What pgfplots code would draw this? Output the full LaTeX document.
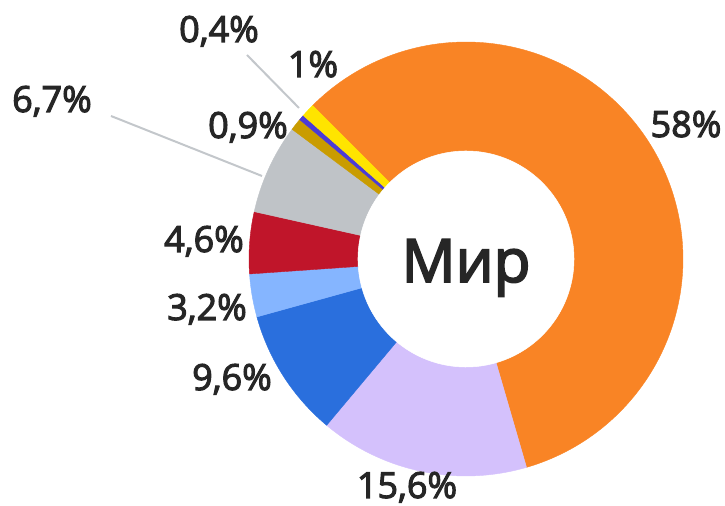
\documentclass[border=0pt]{standalone}
\usepackage{pgfplots}
\pgfplotsset{compat=1.18}
\usepgfplotslibrary{polar}
\usepackage{fontspec}
\setmainfont{Open Sans}
\newfontfamily\semib{Open Sans}[FakeBold=3]
\definecolor{cOrange}{HTML}{F98425}
\definecolor{cLav}{HTML}{D4C1FC}
\definecolor{cBlue}{HTML}{2A6FDD}
\definecolor{cLBlue}{HTML}{85B5FF}
\definecolor{cRed}{HTML}{C0152A}
\definecolor{cGray}{HTML}{BFC3C7}
\definecolor{cGold}{HTML}{C99C00}
\definecolor{cPurple}{HTML}{4B3BD6}
\definecolor{cYellow}{HTML}{FFE400}
\definecolor{cText}{HTML}{262626}
\definecolor{cLine}{HTML}{C3C7CB}
% shares in percent, clockwise from the top-left
\def\pA{58}\def\pB{15.6}\def\pC{9.6}\def\pD{3.2}\def\pE{4.6}
\def\pF{6.7}\def\pG{0.9}\def\pH{0.4}\def\pI{1}
\pgfmathsetmacro\aA{135}
\pgfmathsetmacro\aB{\aA-3.6*\pA}
\pgfmathsetmacro\aC{\aB-3.6*\pB}
\pgfmathsetmacro\aD{\aC-3.6*\pC}
\pgfmathsetmacro\aE{\aD-3.6*\pD}
\pgfmathsetmacro\aF{\aE-3.6*\pE}
\pgfmathsetmacro\aG{\aF-3.6*\pF}
\pgfmathsetmacro\aH{\aG-3.6*\pG}
\pgfmathsetmacro\aI{\aH-3.6*\pH}
\pgfmathsetmacro\aJ{\aI-3.6*\pI}
\begin{document}
\begin{tikzpicture}
\path[use as bounding box] (0,0) rectangle (543.75pt,379.5pt);
\begin{polaraxis}[at={(349.5pt,185.25pt)}, anchor=center, scale only axis,
  width=325.5pt, height=325.5pt, ymin=0, ymax=1, hide axis, clip=false]
\addplot[fill=cOrange, draw=cOrange, line width=0.3pt, domain=\aB:\aA, samples=150] {1} -- (axis cs:0,0) -- cycle;
\addplot[fill=cLav, draw=cLav, line width=0.3pt, domain=\aC:\aB, samples=60] {1} -- (axis cs:0,0) -- cycle;
\addplot[fill=cBlue, draw=cBlue, line width=0.3pt, domain=\aD:\aC, samples=40] {1} -- (axis cs:0,0) -- cycle;
\addplot[fill=cLBlue, draw=cLBlue, line width=0.3pt, domain=\aE:\aD, samples=20] {1} -- (axis cs:0,0) -- cycle;
\addplot[fill=cRed, draw=cRed, line width=0.3pt, domain=\aF:\aE, samples=20] {1} -- (axis cs:0,0) -- cycle;
\addplot[fill=cGray, draw=cGray, line width=0.3pt, domain=\aG:\aF, samples=30] {1} -- (axis cs:0,0) -- cycle;
\addplot[fill=cGold, draw=cGold, line width=0.3pt, domain=\aH:\aG, samples=8] {1} -- (axis cs:0,0) -- cycle;
\addplot[fill=cPurple, draw=cPurple, line width=0.3pt, domain=\aI:\aH, samples=6] {1} -- (axis cs:0,0) -- cycle;
\addplot[fill=cYellow, draw=cYellow, line width=0.3pt, domain=\aJ:\aI, samples=8] {1} -- (axis cs:0,0) -- cycle;
\addplot[fill=white, draw=white, domain=0:360, samples=200] {0.4977} -- cycle;
\end{polaraxis}
\begin{scope}[x=0.75pt, y=-0.75pt, yshift=379.5pt]
\draw[cLine, line width=1.5pt] (111,116) -- (262,176);
\draw[cLine, line width=1.5pt] (247,55) -- (299,108);
\begin{scope}[every node/.style={text=cText, font=\semib\fontsize{27}{32}\selectfont, inner sep=0pt, anchor=base}]
\node at (686,137) {58\%};
\node at (407,498) {15,6\%};
\node at (232,390) {9,6\%};
\node at (207,320) {3,2\%};
\node at (204,252) {4,6\%};
\node at (248,138) {0,9\%};
\node at (52,112) {6,7\%};
\node at (219,42) {0,4\%};
\node at (313,77) {1\%};
\end{scope}
\node[text=cText, font=\semib\fontsize{45}{54}\selectfont, inner sep=0pt, anchor=base] at (466,282) {Мир};
\end{scope}
\end{tikzpicture}
\end{document}
